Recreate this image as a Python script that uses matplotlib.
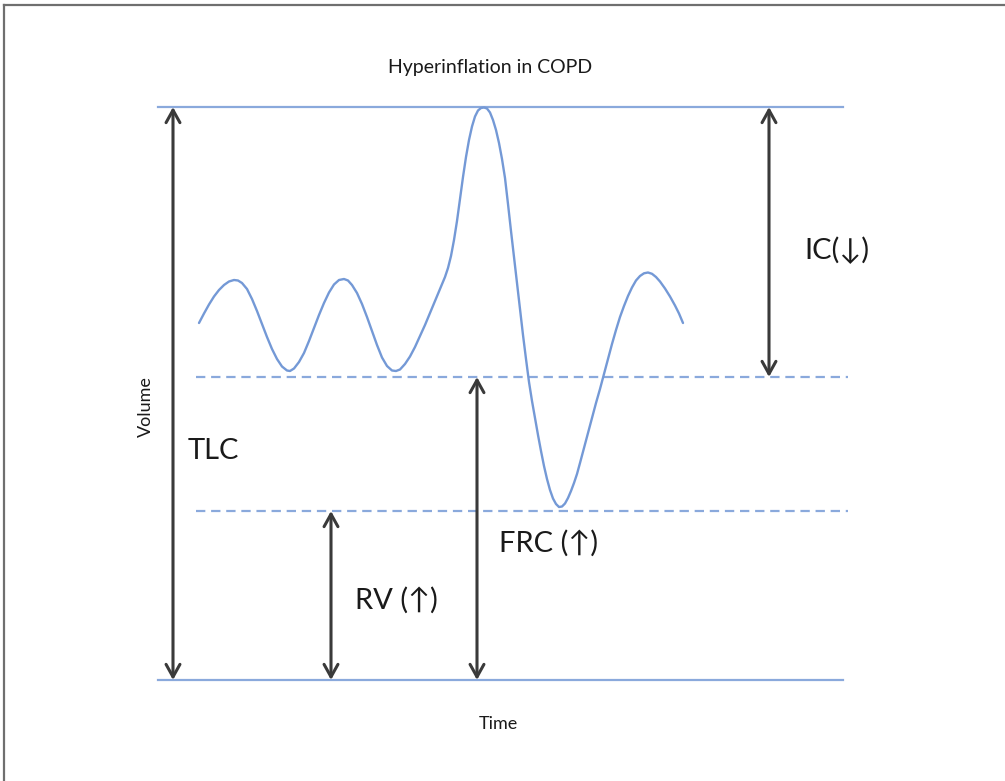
import matplotlib
matplotlib.use("Agg")
import matplotlib.pyplot as plt
from matplotlib.lines import Line2D

# ---- data (pixel units, y downwards) ----
curve_x = [199, 204, 209, 214, 219, 224, 229, 234, 238, 242,
           247, 252, 257, 262, 267, 272, 277, 282, 287, 290, 294,
           299, 304, 309, 314, 319, 324, 329, 334, 339, 344, 348, 352,
           357, 362, 367, 372, 377, 382, 387, 392, 396, 400,
           405, 410, 415, 420, 425, 430, 435, 440, 445, 448,
           451, 454, 457, 460, 463, 466, 469, 472, 475, 478, 481, 484, 487, 490,
           493, 496, 499, 502, 505, 508, 511, 514, 517, 520, 523, 526, 529,
           532, 535, 538, 541, 544, 547, 550, 553, 556, 559, 562, 565, 568, 571,
           574, 577, 580, 584, 588, 592, 596, 600, 604, 608, 612, 616, 620, 624,
           628, 632, 636, 640, 644, 648, 652, 656, 660, 665, 670, 675, 679, 683]
curve_y = [323, 313.5, 304.5, 296.5, 290, 285, 281.5, 280, 280.5, 283,
           289, 299, 311, 324, 337, 349, 359, 366.5, 370.5, 371, 368.5,
           362, 353, 341, 328, 315, 303, 292.5, 284.5, 280, 279, 280.5, 285,
           293, 304, 317, 331, 345, 357.5, 366, 370.5, 371, 369.5,
           364, 356.5, 347, 336, 325, 313, 301, 289, 277, 268,
           256, 240, 221, 199, 177, 157, 140, 126.5, 116.5, 110.5, 108, 107.5, 108.5, 112.5,
           120, 130, 143, 159, 178, 204, 231, 257, 283, 309, 335, 359, 382,
           401, 418, 435, 451, 466, 479, 490, 498.5, 504, 507, 506.5, 503.5, 498, 491,
           483, 474, 463, 448, 433, 418, 403, 389, 374, 359, 344, 330, 317, 306,
           296, 287.5, 280.5, 276, 273.3, 272.5, 273.8, 277, 281.5, 288.5, 296.5, 305.5, 313.5, 323]

level_tlc_top = 107
level_frc = 377
level_rv = 511
level_base = 680

arrow_x = {"TLC": 173, "RV": 331, "FRC": 477, "IC": 769}
labels = {"TLC": "TLC", "RV": "RV (↑)", "FRC": "FRC (↑)", "IC": "IC(↓)"}
title = "Hyperinflation in COPD"
xlabel = "Time"
ylabel = "Volume"

# ---- figure ----
W, H = 1005, 781
fig = plt.figure(figsize=(W / 100, H / 100), dpi=100)
ax = fig.add_axes([0, 0, 1, 1])
ax.set_xlim(0, W)
ax.set_ylim(H, 0)
ax.axis("off")

fam = ["Lato", "DejaVu Sans"]
blue_line = "#8aa9dc"
blue_curve = "#7499d6"
dark = "#3a3a3a"
txt = "#1a1a1a"

# frame (top and left only)
ax.add_line(Line2D([4, W], [5, 5], color="#6f6f6f", lw=1.6))
ax.add_line(Line2D([4, 4], [5, H], color="#6f6f6f", lw=1.6))

# level lines
ax.plot([158, 843], [level_tlc_top] * 2, color=blue_line, lw=1.6)
ax.plot([158, 843], [level_base] * 2, color=blue_line, lw=1.6)
ax.plot([196, 848], [level_frc] * 2, color=blue_line, lw=1.6,
        dashes=(4.2, 2.6))
ax.plot([196, 848], [level_rv] * 2, color=blue_line, lw=1.6,
        dashes=(4.2, 2.6))

# curve
ax.plot(curve_x, curve_y, color=blue_curve, lw=1.7,
        solid_joinstyle="round", solid_capstyle="round", antialiased=True)

# arrows
def darrow(x, y0, y1):
    ax.annotate("", xy=(x, y0), xytext=(x, y1),
                arrowprops=dict(arrowstyle="<->,head_length=0.45,head_width=0.25",
                                color=dark, lw=2.2, shrinkA=0, shrinkB=0,
                                mutation_scale=20))

darrow(arrow_x["TLC"], level_tlc_top, level_base)
darrow(arrow_x["RV"], level_rv, level_base)
darrow(arrow_x["FRC"], level_frc, level_base)
darrow(arrow_x["IC"], level_tlc_top, level_frc)

# labels
fs = 21
ax.text(213, 451, labels["TLC"], fontsize=fs, family=fam, color=txt,
        ha="center", va="center")
ax.text(396, 600, labels["RV"], fontsize=fs, family=fam, color=txt,
        ha="center", va="center")
ax.text(549, 543, labels["FRC"], fontsize=fs, family=fam, color=txt,
        ha="center", va="center")
ax.text(837, 250, labels["IC"], fontsize=fs, family=fam, color=txt,
        ha="center", va="center")

ax.text(490, 68, title, fontsize=14, family=fam, color=txt,
        ha="center", va="center")
ax.text(498, 724, xlabel, fontsize=13, family=fam, color=txt,
        ha="center", va="center")
ax.text(146, 407, ylabel, fontsize=13, family=fam, color=txt,
        ha="center", va="center", rotation=90)

fig.savefig("out.png", dpi=100)
